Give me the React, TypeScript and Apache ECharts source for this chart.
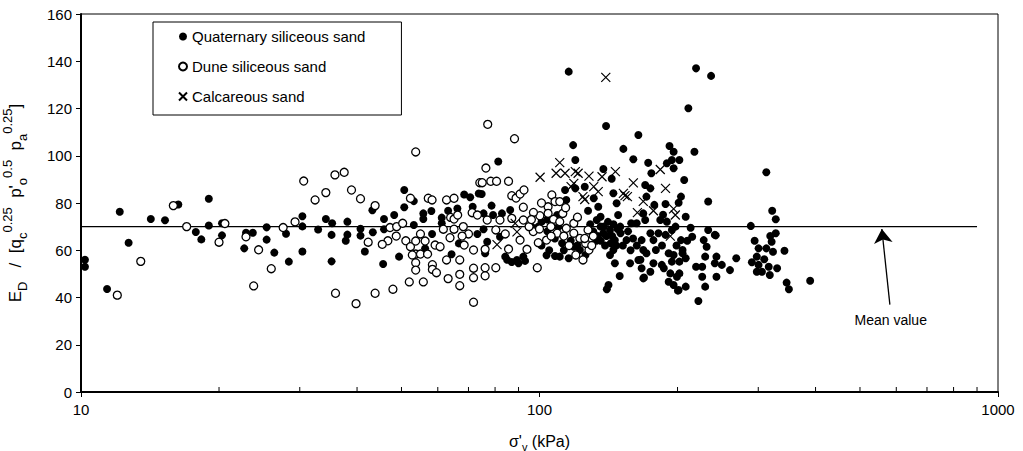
import React, { useEffect, useRef } from "react";
import * as echarts from "echarts";

const FONT = "Arial, 'Liberation Sans', Helvetica, sans-serif";

// [σ'v (kPa), E_D / [...]]
const quaternarySand: number[][] = [
  [10.2, 56], [10.2, 53], [11.4, 43.6], [12.15, 76.3], [12.7, 63.2], [14.2, 73.2], [15.25, 72.7], [16.3, 79.4],
  [17.8, 67.7], [18.3, 64.6], [19, 81.8], [19, 70.5], [20.3, 66.3], [20.3, 71.4],
  [22.7, 60.8], [22.9, 67.4], [23.7, 67.4], [25.4, 69.7], [25.4, 64.5], [26.4, 59], [28, 67], [28.4, 55.2],
  [30.4, 74.4], [30.4, 70.1], [30.4, 59.5], [32.9, 68.8], [34.2, 73.2], [35.3, 71.4], [35.2, 66.5], [35.2, 55.3],
  [38.1, 72.1], [38.1, 66.6], [37.8, 64], [40.7, 69.1], [40.7, 66.2], [41.6, 59.5], [43.2, 76.9], [43.3, 67.6],
  [45.6, 54.2], [49.4, 57.3], [50.7, 85.5], [50.7, 78.2], [48.2, 74.9], [45.8, 73.2], [45.8, 68.9], [53.2, 80.8],
  [53.2, 70.7], [56.3, 60.8], [55.8, 75.6], [55.8, 73.2], [58.1, 76.6], [58.3, 66.9], [61.2, 73.8], [61.2, 71.4],
  [63.2, 76.7], [66.2, 77.7], [68.5, 83.6], [70.6, 82.4], [71.5, 78.4], [73.7, 84], [66.7, 62.9], [64.3, 58.3], [73.2, 66.9],
  [81.3, 97.6], [74.8, 83.8], [78.6, 78.9], [82.8, 75.6], [86.3, 77], [89.3, 55.9], [92.2, 57.3], [84.2, 57.3],
  [76.1, 58.7], [108.1, 57.6], [103.6, 57.9], [79.2, 74.9], [75.5, 75.6], [75.5, 68.9], [82, 65.7], [76.9, 63.6],
  [96.1, 70], [99.4, 70], [87, 55], [90, 54.5], [93, 55.5], [85, 56],
  [101, 62], [105, 60], [108, 65], [112, 63], [104, 68], [110, 70], [109.3, 74.9], [101, 72], [104, 73],
  [115.8, 135.6], [139.7, 112.6], [118.4, 104.5], [119.7, 98.2], [152.4, 102.9], [164.3, 108.8], [160.2, 98.5],
  [137.8, 94.4], [143.7, 90.3], [113.7, 85.5], [119.7, 86.2], [125.5, 86.9], [131.3, 82], [114.4, 81.3],
  [144.9, 84.1], [147.3, 79.9], [127.6, 76.7], [134.3, 78.4], [135.9, 74.2], [148.4, 74.9], [162.9, 71.4],
  [158.5, 71.4], [137.8, 67.2], [142.5, 68.6], [146, 64.3], [150.2, 67.2], [154.8, 64.3], [144.9, 60.1],
  [142.5, 58], [146, 54.5], [157.6, 54.5], [149.6, 49.1], [141.4, 45.3], [140.2, 43.5], [115.8, 56.6],
  [110.7, 57.3], [122.5, 60.1], [164.3, 55.9], [118.8, 61.5], [133.3, 72.8], [135.9, 70],
  [138, 70], [140, 66], [143, 63], [145, 71], [147, 62], [139, 62], [141, 72], [144, 66], [148, 69], [136, 64],
  [131, 68], [133, 64], [150, 70], [152, 62], [156, 68], [160, 65], [163, 62], [129, 71], [134, 66], [158, 60],
  [113, 60], [117, 64], [121, 62], [126, 58],
  [219.5, 137], [236.7, 133.8], [211.2, 120.1], [217.7, 101.7], [192.1, 104.1], [196.1, 101.7], [233.3, 80.6],
  [206.8, 89.7], [201.9, 98.2], [194.4, 98.2], [196.1, 94.7], [189.6, 96.8], [172.6, 97], [175.4, 92.6],
  [170, 87.6], [174.5, 86.2], [171.1, 82.7], [178, 79.2], [188.3, 79.6], [203.5, 82.7], [201.1, 80.1],
  [208.4, 74.2], [168.4, 75.6], [170, 72.8], [183.4, 72.8], [189.6, 72.1], [213.6, 69.5], [215.3, 65.7],
  [228.1, 64.3], [241.2, 66.5], [231.5, 61.5], [229.8, 57.3], [241.2, 54.5], [226.4, 53], [226.4, 48.8],
  [222.1, 38.5], [229.8, 44.6], [219.5, 53], [205.1, 58.7], [208.4, 56.6], [201.9, 50.2], [208.4, 44.6],
  [201.1, 43.2], [196.1, 45.3], [191.3, 46.7], [199.4, 48.8], [192.9, 50.2], [186.7, 52.4], [194.4, 55.2],
  [201.9, 55.2], [205.1, 60.1], [196.1, 58], [191.3, 58.7], [184.8, 53.8], [177.2, 54.5], [174.5, 50.9],
  [168.4, 48.1], [167, 52.4], [171.1, 58.7], [179.4, 60.1], [177.2, 64.3], [181.7, 67.2], [188.3, 66.5],
  [194.4, 68.6], [174.5, 67.2], [167, 64.3], [168.4, 60.1], [203.5, 64.3], [243.2, 57.3], [243.2, 48.8],
  [242.3, 66.3], [233.3, 68.6], [200.4, 42.9], [166, 56], [169, 48.5],
  [185, 62], [198, 70], [210, 64], [186, 75], [199, 62],
  [312.4, 93], [321.7, 76.7], [327.5, 73.1], [327.5, 67.2], [318.6, 66], [320.8, 63.6], [289, 70.3],
  [294.6, 64], [300.5, 60.8], [312.4, 60.8], [323, 59.4], [342.2, 59.8], [297.8, 57.3], [309.2, 56.2],
  [290.5, 54.9], [300.5, 53.8], [316.2, 53], [329.8, 52.4], [297.8, 50.9], [305.6, 50.9], [317.9, 49.5],
  [345.9, 46.3], [349.9, 43.5], [268.6, 56.6], [260.3, 51.6], [249.8, 53.8], [389.3, 47.1],
];

const duneSand: number[][] = [
  [12, 41], [13.5, 55.3], [15.9, 78.9], [17, 70], [20, 63.4], [20.6, 71.3], [22.9, 65.7], [23.8, 44.9],
  [24.4, 60.2], [26, 52.2], [27.6, 69.6], [29.3, 72], [30.6, 89.3], [32.4, 81.3], [34.2, 84.4], [35.9, 41.8],
  [35.8, 91.9], [37.5, 93], [38.9, 85.5], [40.7, 81.8], [43.8, 78.9], [42.3, 63.4], [39.8, 37.4], [43.8, 41.8],
  [53.7, 101.6], [47.9, 43.5], [47.2, 69.6], [48.8, 70], [50.3, 71.4], [52.3, 82], [46.7, 64], [45.4, 62.5],
  [48.7, 66], [51.1, 64], [52.3, 61.5], [53.7, 63.9], [55, 66.9], [56.3, 63.9], [53.7, 58.4], [55, 58.4],
  [57, 58.4], [52.8, 58], [53.7, 54.7], [53.7, 51.6], [52, 46.6], [55.8, 46.6], [57.2, 82], [58.3, 81.3],
  [59.2, 62.2], [60.7, 61.5], [58.4, 53.9], [58.4, 51.9], [59.6, 50.5], [61.7, 68.9], [62.7, 81.3], [65.1, 82],
  [64, 73.9], [65.1, 73.2], [66.3, 74.9], [65.1, 68.9], [63.8, 65.3], [68.2, 70], [68.5, 62.2], [70, 66.9],
  [67.8, 66], [62.7, 55.9], [67, 55.9], [71.8, 60.1], [67, 49.8], [67, 45], [63.2, 48], [71.8, 48.4],
  [71.8, 52.4], [71.8, 38], [71.3, 75.9], [73.2, 74.9], [74.1, 88.6],
  [77.1, 113.3], [88.2, 107.2], [76.4, 94.8], [75, 88.6], [78.3, 89.2], [80.6, 89.2], [85.6, 89.2], [87, 83.1],
  [88.9, 82.1], [90.7, 83.8], [92.5, 85.5], [92.2, 78.2], [106.4, 83.4], [108.1, 80.6], [104.4, 78.4],
  [76.1, 52.6], [76.1, 49.2], [80.3, 52.6], [98.9, 52.6], [76.1, 60.4], [85.6, 60.5], [93.9, 60.4],
  [103.6, 64.3], [99.4, 63.2], [96.9, 67.9], [94.9, 70], [100.2, 74.6], [104.4, 75.6], [107.3, 73.1],
  [105.9, 70], [109.3, 67.2], [92.2, 72.8], [82, 72.8], [87, 73.5], [76.9, 72.8], [80.3, 68.6], [84.2, 66.9],
  [90.7, 64.3],
  [124.4, 55.9], [128.2, 60.1], [126.1, 62.9], [122.5, 65], [118.8, 67.2], [114.4, 69.3], [110.7, 72.1],
  [127.6, 68.6], [125.5, 65], [118.8, 71.4], [112.4, 75.6], [110.7, 80.6],
  [97, 76], [101, 80], [113, 66], [116, 62], [120, 58], [130, 62], [131, 66], [121, 74], [114, 78], [106, 66],
  [100, 69], [96, 73],
];

const calcareousSand: number[][] = [
  [100.3, 90.9], [108.7, 92.6], [110.7, 97.1], [113.7, 92.6], [118.8, 88.3], [119.7, 93.3], [121.4, 92.6],
  [117.2, 86.9], [124.4, 82.7], [125.5, 81.5], [128.2, 91.4], [131.3, 86.9], [134.3, 84.8], [136.9, 91.1],
  [139.5, 133.2], [146.4, 93.3], [152.4, 84.1], [155.5, 82.7], [160.2, 88.5], [163.5, 75.9], [168.4, 80.7],
  [177.2, 76.7], [183.4, 94.2], [188.3, 86.2], [196.1, 77.5], [192.9, 66], [88.5, 71.4], [80.8, 62.4],
  [89.3, 67.8], [153.6, 83.1], [197.8, 74.9],
];

const meanValue = 70;
const meanLineX = [10, 900];
const arrowTail = [581, 37];
const arrowHead = [558, 69];
const minorTickValues = [20, 30, 40, 50, 60, 70, 80, 90, 200, 300, 400, 500, 600, 700, 800, 900];

const CROSS = "path://M0,0L10,10M10,0L0,10";

export default function App() {
  const ref = useRef<HTMLDivElement>(null);
  useEffect(() => {
    document.body.style.margin = "0";
    const chart = echarts.init(ref.current!, null, { renderer: "svg" });
    chart.setOption({
      animation: false,
      backgroundColor: "#fff",
      textStyle: { fontFamily: FONT, color: "#000" },
      grid: {
        left: 81, right: 25, top: 14, bottom: 59,
        outerBoundsMode: "none",
        containLabel: false,
        show: true, borderColor: "#000", borderWidth: 1, backgroundColor: "transparent",
      },
      legend: {
        left: 153, top: 22, orient: "vertical",
        borderColor: "#000", borderWidth: 1, borderRadius: 0,
        padding: [7, 36, 11, 25], itemGap: 15, itemWidth: 8, itemHeight: 8,
        selectedMode: false,
        textStyle: { fontSize: 15, color: "#000", fontFamily: FONT, lineHeight: 15 },
        data: [
          { name: "Quaternary siliceous sand", icon: "circle" },
          { name: "Dune siliceous sand", icon: "circle" },
          { name: "Calcareous sand", icon: CROSS },
        ],
      },
      xAxis: {
        type: "log", logBase: 10, min: 10, max: 1000,
        name: "{b|σ'}{sub|v}{b| (kPa)}",
        nameLocation: "middle", nameGap: 38,
        nameTextStyle: {
          rich: {
            b: { fontSize: 16, fontFamily: FONT, color: "#000", lineHeight: 22, verticalAlign: "middle" },
            sub: { fontSize: 11, fontFamily: FONT, color: "#000", verticalAlign: "bottom", lineHeight: 11 },
          },
        },
        axisLine: { show: true, lineStyle: { color: "#000", width: 2 } },
        axisTick: { show: true, length: 5, lineStyle: { color: "#000", width: 1 } },
        axisLabel: { fontSize: 15, color: "#000", margin: 10, fontFamily: FONT, formatter: (v: number) => String(v) },
        splitLine: { show: false },
      },
      yAxis: {
        type: "value", min: 0, max: 160, interval: 20,
        name: "{b|E}{sub|D}{b|   /  [q}{sub|c}{sup|0.25}{b|  p'}{sub|o}{sup|0.5}{b|  p}{sub|a}{sup|0.25}{b|]}",
        nameLocation: "middle", nameGap: 52,
        nameTextStyle: {
          rich: {
            b: { fontSize: 17, fontFamily: FONT, color: "#000", lineHeight: 28, verticalAlign: "middle" },
            sub: { fontSize: 13, fontFamily: FONT, color: "#000", verticalAlign: "bottom", lineHeight: 13 },
            sup: { fontSize: 13, fontFamily: FONT, color: "#000", verticalAlign: "top", lineHeight: 13 },
          },
        },
        axisLine: { show: true, lineStyle: { color: "#000", width: 2 } },
        axisTick: { show: true, length: 5, lineStyle: { color: "#000", width: 1 } },
        axisLabel: { fontSize: 15, color: "#000", margin: 9, fontFamily: FONT },
        splitLine: { show: false },
      },
      series: [
        {
          name: "Mean value",
          type: "line",
          data: meanLineX.map((x) => [x, meanValue]),
          symbol: "none",
          silent: true,
          z: 1,
          lineStyle: { color: "#000", width: 1.3 },
          markLine: {
            silent: true,
            symbol: ["none", "arrow"],
            symbolSize: 14,
            lineStyle: { color: "#000", width: 1.3, type: "solid" },
            label: {
              show: true, position: "start", formatter: "Mean value",
              color: "#000", fontSize: 14, fontFamily: FONT, distance: 8,
            },
            data: [[{ coord: arrowTail }, { coord: arrowHead }]],
          },
        },
        {
          name: "minorTicks",
          type: "scatter",
          data: minorTickValues.map((v) => [v, 0]),
          symbol: "rect",
          symbolSize: [1, 5],
          symbolOffset: [0, -2.5],
          itemStyle: { color: "#000", opacity: 1 },
          clip: false,
          silent: true,
          z: 5,
        },
        {
          name: "Quaternary siliceous sand",
          type: "scatter",
          data: quaternarySand,
          symbol: "circle",
          symbolSize: 8,
          itemStyle: { color: "#000", opacity: 1 },
          z: 3,
        },
        {
          name: "Dune siliceous sand",
          type: "scatter",
          data: duneSand,
          symbol: "circle",
          symbolSize: 8,
          itemStyle: { color: "#fff", borderColor: "#000", borderWidth: 1.3, opacity: 1 },
          z: 3,
        },
        {
          name: "Calcareous sand",
          type: "scatter",
          data: calcareousSand,
          symbol: CROSS,
          symbolSize: 9,
          itemStyle: { color: "rgba(0,0,0,0)", borderColor: "#000", borderWidth: 1.2, opacity: 1 },
          z: 4,
        },
      ],
    });
    return () => chart.dispose();
  }, []);
  return <div ref={ref} style={{ width: 1023, height: 451 }} />;
}
